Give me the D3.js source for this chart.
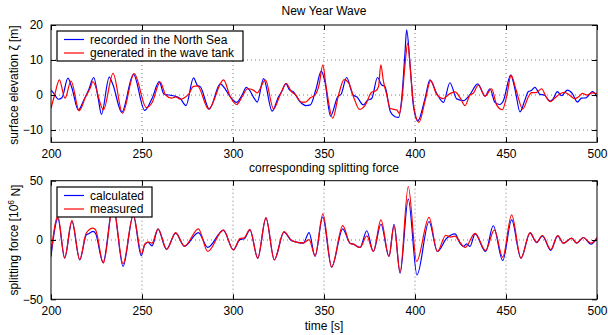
<!DOCTYPE html>
<html>
<head>
<meta charset="utf-8">
<script src="https://cdn.jsdelivr.net/npm/d3@7"></script>
<style>
  body { margin: 0; background: #fff; }
  svg { font-family: "Liberation Sans", Arial, sans-serif; font-size: 12px; }
</style>
</head>
<body>
<div id="chart"></div>
<script>
// surface elevation [m] as [time, value]
let recordedSea = [[200, 1.4], [201.5, 0.5], [204, -1.2], [206, -0.8], [209.3, 4.8], [211.5, 2.0], [215, -4.3], [218, -1.5],
  [220.5, 1.2], [223.5, 5.0], [226, -1.2], [227.7, -5.5], [232, 5.1], [234, 3.0], [238.9, -4.9], [245.3, 5.9], [251.5, -4.4],
  [255.5, -1.0], [259.5, 3.8], [262, 0.3], [265, 0], [268, -0.3], [271, -1.0], [274.2, -3.0], [278.3, 4.9], [280.5, 2.7],
  [282, 2.4], [287, -4.0], [293, 3.2], [296, 1.5], [298.5, -0.5], [302, -2.1], [305, 0], [307.3, 2.2], [309, 1.5],
  [311.5, -0.8], [313.3, -2.0], [316.8, 4.7], [321.5, -4.6], [325, -0.5], [327, 1.2], [329, 3.3], [331, 1.5], [333, 1.0],
  [336.5, -1.7], [340, -3.0], [342.5, -2.8], [345.5, 1.5], [348.5, 6.8], [350.5, 3.8], [353.6, -6.0], [357.5, -0.5],
  [359.5, 0.3], [362.4, 5.0], [366, 0], [368, -0.5], [371.6, -2.8], [374, -1.5], [376.2, -1.0], [379.4, 5.0], [381.5, 3.0],
  [383.5, 2.4], [386.5, -4.8], [389, -6.2], [391, -6.4], [392.7, -1.0], [394.5, 12], [395.4, 18.6], [397.3, 8.6],
  [399.1, -3], [401.5, -7.4], [405.6, -0.8], [408.2, 4.3], [411.9, 0.5], [415.6, -2.1], [419.2, 3.5], [422.9, -1.1],
  [426.6, -1.6], [430, 0], [434.5, 3.2], [438.5, -0.3], [441.2, 1.8], [443.9, -2.1], [446.7, -2.7], [448.5, -1.7],
  [452.6, 5.7], [455, 1.5], [457.7, -4.8], [460.4, -1.4], [462.3, 1.0], [464, 1.3], [465.9, 2.2], [468.6, 0.2], [471, 0],
  [474.2, -1.7], [476, -1.0], [478.2, 1.0], [480.5, -0.2], [483.7, 1.4], [486.5, 0.4], [489.2, -2.0], [491.5, -0.9],
  [494, -0.8], [497.6, 1.0], [500, -0.5]];

let generatedTank = [[200, -3.8], [202, 0], [204.6, 4.3], [207.7, -0.9], [211, 4.0], [215.5, -4.5], [219, -0.5], [221.5, 1.9],
  [223, 3.8], [228.8, -4.2], [234.1, 6.2], [239.3, -5.2], [245.7, 6.1], [252.4, -3.6], [255.5, -2.2], [260, 3.7], [263, 0],
  [266.3, -0.9], [268.5, -0.5], [271, -1.2], [273.5, -0.7], [276, 0.5], [278, 2.4], [280.5, 2.6], [286.6, -4.0],
  [294.8, 4.3], [298.5, -0.5], [302, -2.7], [305, -0.5], [308, 1.8], [311.2, 1.4], [313.2, 0.6], [317.8, 4.3],
  [322.3, -4.0], [325.5, -0.5], [329.3, 3.3], [332, 1.0], [334.5, 0], [337.5, -2.0], [339.8, -2.0], [342.5, -0.8],
  [345.5, 0.3], [347.3, 2.9], [349.4, 8.6], [351, 3], [354.8, -6.6], [358, 0], [361, 4.4], [363.5, 3.5], [366.5, -0.9],
  [369.5, -4.1], [372.5, -3.0], [376.2, 0.8], [378.5, 1.2], [380, 2.5], [381.2, 8.6], [382.7, 3.8], [384.5, 0],
  [386.3, -3.8], [388.5, -4.1], [390, -4.3], [391.4, -5.2], [392.7, -2], [394.5, 8.6], [396, 14.8], [397.7, 5.7],
  [399.5, -3.8], [402.2, -7.8], [405.6, -1.5], [408.6, 4.1], [411.9, 0.2], [415.6, -1.0], [419.2, 0.4], [422, 0.9],
  [424.8, -0.8], [427.5, -3.0], [430.2, 0], [432, 0.5], [434.8, 2.8], [438.5, -0.3], [442.1, 1.8], [444.9, -2.9],
  [448, -4.2], [450.5, 0], [452.8, 5.7], [455.5, 1.5], [459.2, -4.0], [462.3, -0.5], [464, 0.7], [466.5, 0.7], [468, 1.2],
  [469.6, 1.8], [472, -0.5], [474.2, -1.9], [477, -0.8], [479.5, 0.3], [482, 0.8], [484.8, 0], [487.5, -1.0], [490, -0.5],
  [492, 0.5], [494.5, 0], [497.2, 0.6], [500, 0.4]];

// splitting force [10^6 N]
let forceCalculated = [[200, -14], [203.8, 18], [207.5, -15.3], [211.5, 15.6], [215.8, -16.7], [219.4, 4.4], [221, 5.5],
  [223.1, 7.2], [224.5, 5.5], [228.6, -19], [234.1, 29], [239.6, -22.3], [245.2, 21], [249.6, -13.3], [251.5, -4],
  [253.3, -2.1], [255.5, -4.9], [258.8, 9.1], [263.4, -7.8], [268.5, 5.8], [273.3, -5.2], [281, 6.3], [286.1, -6.3],
  [294.7, 8.1], [300.2, -8.3], [303.8, 0.3], [306.2, 1], [309.3, 8.6], [313.6, -15.3], [318.1, 18.4], [322.7, -16.7],
  [328, 6.6], [332.2, -0.7], [334.9, -1.8], [338.6, -2.7], [341.8, 6.3], [345.1, -13.9], [349.3, 19.4], [354.2, -22.9],
  [360.3, 9.4], [364.3, -2.7], [366.1, -3.5], [369.8, -6.3], [373.5, 7.8], [377.1, -9.7], [381.3, 13.3], [385.7, -13.9],
  [388.5, 13.3], [391.8, -28], [396.3, 34.4], [401.1, -29.4], [407.7, 15.6], [412.3, -9.7], [417.4, 1.5], [422, 5.2],
  [424.7, -2.7], [426.6, -5.5], [428.4, -3.2], [430.2, -5.5], [433, 5.2], [438.8, -9.7], [443, 12], [448.2, -17.3],
  [453.1, 17], [458.2, -15.3], [463.2, 5.8], [466.8, -2.2], [470, 3.5], [474.6, -8.8], [478.4, 3.5], [481.5, -2.7],
  [486.1, 1.5], [488.8, -2.7], [492.5, 2.1], [496.7, -3.5], [500, 1.5]];

let forceMeasured = [[200, -11], [203.8, 20], [207.5, -15], [211.5, 16.5], [215.8, -16.5], [219.4, 5.9], [223.1, 10],
  [224.5, 8.5], [228.8, -19.5], [234.1, 29], [239.6, -20], [245.2, 21], [249.8, -11.7], [251.5, -3.5], [253.3, -1.5],
  [255.5, -2.7], [258.8, 9.5], [263.6, -7.8], [268.5, 6.3], [273.3, -5.2], [281, 9.4], [286.1, -9.7], [294.7, 8.6],
  [300.2, -8.3], [303.8, 1.2], [306.2, 1.8], [309.3, 9], [313.6, -15.3], [318.1, 18.8], [322.7, -16.7], [328, 7],
  [332.2, -0.3], [334.9, -1.8], [338.6, -2.5], [341.8, 0.4], [345.1, -13.1], [349.4, 22.1], [354.2, -22.9], [360.3, 12.2],
  [364.3, -2.7], [366.1, -3.5], [369.8, -6.3], [373.5, 3.5], [377.1, -9.7], [381.3, 17], [385.7, -13.9], [388.5, 11.9],
  [391.8, -27], [396.3, 45.1], [400.9, -18.1], [407.7, 19], [412.3, -9.7], [416.9, 4], [419.5, 2.5], [422, 3.2],
  [424.5, -1.5], [427.5, -6.3], [433, 5.6], [438.8, -8.9], [443.6, 8.6], [448.2, -14.5], [453.1, 21.2], [458.2, -15.3],
  [463.2, 6.2], [466.8, -1.8], [470, 3.8], [474.6, -8], [478.4, 3.8], [481.5, -2.7], [486.1, 1.5], [488.8, -2.5],
  [492.5, 2.1], [496.7, -2.7], [500, 2]];

let timeTicks = [200, 250, 300, 350, 400, 450, 500];
let waveTicks = [-10, 0, 10, 20];
let forceTicks = [-50, 0, 50];

let width = 608, height = 335;
let svg = d3.select("#chart").append("svg")
  .attr("width", width)
  .attr("height", height);

let x = d3.scaleLinear().domain([200, 500]).range([51, 597]);

function drawPanel(opts) {
  let y = d3.scaleLinear().domain(opts.yDomain).range([opts.bottom, opts.top]);
  let g = svg.append("g");
  let clipId = "clip" + opts.id;

  g.append("clipPath").attr("id", clipId)
    .append("rect")
    .attr("x", x.range()[0]).attr("y", opts.top)
    .attr("width", x.range()[1] - x.range()[0])
    .attr("height", opts.bottom - opts.top);

  // dotted grid
  let gridX = timeTicks.filter(function (t) { return t > 200 && t < 500; });
  let gridY = opts.ticks.filter(function (v) { return y(v) > opts.top + 1 && y(v) < opts.bottom - 1; });
  g.selectAll(".gx").data(gridX).enter().append("line")
    .attr("x1", function (d) { return x(d); }).attr("x2", function (d) { return x(d); })
    .attr("y1", opts.top).attr("y2", opts.bottom)
    .style("stroke", "#444").style("stroke-width", 0.7).style("stroke-dasharray", "1,3");
  g.selectAll(".gy").data(gridY).enter().append("line")
    .attr("x1", x.range()[0]).attr("x2", x.range()[1])
    .attr("y1", function (d) { return y(d); }).attr("y2", function (d) { return y(d); })
    .style("stroke", "#444").style("stroke-width", 0.7).style("stroke-dasharray", "1,3");

  let line = d3.line()
    .x(function (d) { return x(d[0]); })
    .y(function (d) { return y(d[1]); })
    .curve(d3.curveMonotoneX);

  opts.series.forEach(function (s) {
    g.append("path")
      .datum(s.data)
      .attr("clip-path", "url(#" + clipId + ")")
      .attr("d", line)
      .style("fill", "none")
      .style("stroke", s.color)
      .style("stroke-width", 1.2);
  });

  // axes, MATLAB style ticks pointing inwards, on all four sides
  let tl = 5;
  g.append("g").attr("transform", "translate(0," + opts.bottom + ")")
    .call(d3.axisBottom(x).tickValues(timeTicks).tickSizeInner(-tl).tickSizeOuter(0).tickPadding(7));
  g.append("g").attr("transform", "translate(0," + opts.top + ")")
    .call(d3.axisTop(x).tickValues(timeTicks).tickSizeInner(-tl).tickSizeOuter(0).tickFormat(""));
  g.append("g").attr("transform", "translate(" + x.range()[0] + ",0)")
    .call(d3.axisLeft(y).tickValues(opts.ticks).tickSizeInner(-tl).tickSizeOuter(0).tickPadding(8)
      .tickFormat(function (d) { return d < 0 ? "\u2212" + Math.abs(d) : d; }));
  g.append("g").attr("transform", "translate(" + x.range()[1] + ",0)")
    .call(d3.axisRight(y).tickValues(opts.ticks).tickSizeInner(-tl).tickSizeOuter(0).tickFormat(""));

  g.selectAll(".domain").remove();
  g.selectAll(".tick line").style("stroke", "#000");
  g.selectAll(".tick text").style("font-family", "Liberation Sans, Arial, sans-serif")
    .style("font-size", "12px").style("fill", "#000");

  g.append("rect")
    .attr("x", x.range()[0]).attr("y", opts.top)
    .attr("width", x.range()[1] - x.range()[0])
    .attr("height", opts.bottom - opts.top)
    .style("fill", "none").style("stroke", "#000").style("stroke-width", 1);

  // legend
  let lg = g.append("g");
  lg.append("rect")
    .attr("x", opts.legend.x).attr("y", opts.legend.y)
    .attr("width", opts.legend.w).attr("height", opts.legend.h)
    .style("fill", "#fff").style("stroke", "#000").style("stroke-width", 1.2);
  opts.series.forEach(function (s, i) {
    let ly = opts.legend.y + 8.5 + i * 13.5;
    lg.append("line")
      .attr("x1", opts.legend.x + 7).attr("x2", opts.legend.x + 27)
      .attr("y1", ly).attr("y2", ly)
      .style("stroke", s.color).style("stroke-width", 1.2);
    lg.append("text")
      .attr("x", opts.legend.x + 33).attr("y", ly)
      .attr("dy", "0.35em")
      .style("font-size", "12px")
      .text(s.name);
  });

  return y;
}

drawPanel({
  id: "wave", top: 25, bottom: 142.3, yDomain: [-13.5, 20], ticks: waveTicks,
  series: [
    { name: "recorded in the North Sea", color: "#0000ff", data: recordedSea },
    { name: "generated in the wave tank", color: "#ff0000", data: generatedTank }
  ],
  legend: { x: 57, y: 31, w: 186, h: 30 }
});

drawPanel({
  id: "force", top: 180.7, bottom: 299.3, yDomain: [-50, 50], ticks: forceTicks,
  series: [
    { name: "calculated", color: "#0000ff", data: forceCalculated },
    { name: "measured", color: "#ff0000", data: forceMeasured }
  ],
  legend: { x: 57, y: 187, w: 95, h: 30 }
});

// titles and labels
svg.append("text").attr("x", 324).attr("y", 11).attr("dy", "0.35em")
  .style("text-anchor", "middle").text("New Year Wave");
svg.append("text").attr("x", 324).attr("y", 168).attr("dy", "0.35em")
  .style("text-anchor", "middle").text("corresponding splitting force");
svg.append("text").attr("x", 324).attr("y", 326).attr("dy", "0.35em")
  .style("text-anchor", "middle").text("time [s]");

svg.append("text")
  .attr("transform", "translate(14,85) rotate(-90)")
  .attr("dy", "0.35em")
  .style("text-anchor", "middle")
  .text("surface elevation \u03b6 [m]");

let fl = svg.append("text")
  .attr("transform", "translate(14,240) rotate(-90)")
  .attr("dy", "0.35em")
  .style("text-anchor", "middle");
fl.append("tspan").text("splitting force [10");
fl.append("tspan").attr("dy", "-0.45em").style("font-size", "8.5px").text("6");
fl.append("tspan").attr("dy", "0.45em").text(" N]");
</script>
</body>
</html>
